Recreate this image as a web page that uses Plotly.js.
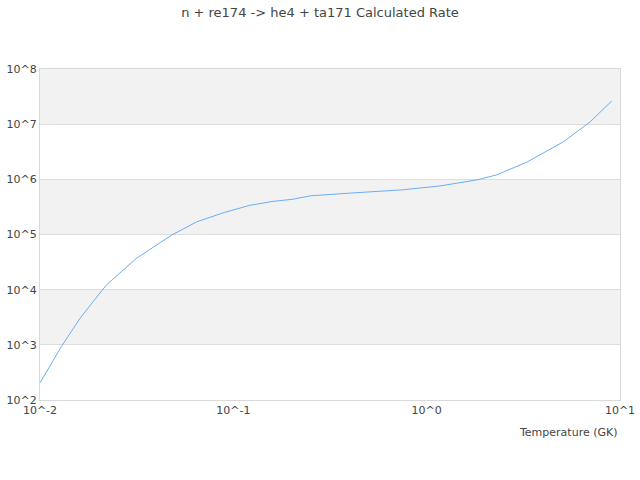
<!DOCTYPE html>
<html>
<head>
<meta charset="utf-8">
<script src="https://cdn.plot.ly/plotly-3.0.1.min.js"></script>
<style>html,body{margin:0;padding:0;background:#fff;}#chart{width:640px;height:480px;}</style>
</head>
<body>
<div id="chart"></div>
<script>
// Temperature (GK)
var temperature = [0.01, 0.0129, 0.0161, 0.0221, 0.0316, 0.048, 0.0647, 0.09, 0.122, 0.16, 0.204, 0.249, 0.40, 0.75, 1.17, 1.82, 2.30, 3.29, 5.09, 7.0, 9.06];
// log10 of rate
var logRate = [2.31, 2.97, 3.48, 4.09, 4.57, 4.99, 5.23, 5.40, 5.53, 5.60, 5.64, 5.70, 5.75, 5.81, 5.88, 5.99, 6.08, 6.31, 6.68, 7.04, 7.42];
var rate = logRate.map(function(v){ return Math.pow(10, v); });

var xTickVals = [0.01, 0.1, 1, 10];
var xTickText = ["10^-2", "10^-1", "10^0", "10^1"];
var yTickVals = [1e2, 1e3, 1e4, 1e5, 1e6, 1e7, 1e8];
var yTickText = ["10^2", "10^3", "10^4", "10^5", "10^6", "10^7", "10^8"];
var bandDecades = [[3, 4], [5, 6], [7, 8]];

var yMin = 2, yMax = 8;
var shapes = bandDecades.map(function(b){
  return {type: 'rect', xref: 'paper', yref: 'paper', x0: 0, x1: 1,
    y0: (b[0] - yMin) / (yMax - yMin), y1: (b[1] - yMin) / (yMax - yMin),
    fillcolor: '#f2f2f2', line: {width: 0}, layer: 'below'};
});

var trace = {x: temperature, y: rate, type: 'scatter', mode: 'lines',
  line: {color: '#6aaef2', width: 1}, hoverinfo: 'x+y'};

var layout = {
  width: 640, height: 480,
  margin: {l: 40, r: 20, t: 69, b: 80},
  paper_bgcolor: '#fff', plot_bgcolor: 'rgba(0,0,0,0)',
  font: {family: 'DejaVu Sans, sans-serif', size: 11, color: '#444'},
  title: {text: 'n + re174 -> he4 + ta171 Calculated Rate', font: {size: 13, color: '#444'}, x: 0.5, xanchor: 'center', y: 0.975, yanchor: 'middle'},
  showlegend: false,
  shapes: shapes,
  xaxis: {type: 'log', range: [-2, 1], tickvals: xTickVals, ticktext: xTickText,
    showgrid: false, zeroline: false, showline: true, linecolor: '#d9d9d9', linewidth: 1, mirror: true,
    ticks: '', tickfont: {size: 11, color: '#444'}},
  yaxis: {type: 'log', range: [2, 8], tickvals: yTickVals, ticktext: yTickText,
    showgrid: true, gridcolor: '#dddddd', gridwidth: 1, zeroline: false, showline: true, linecolor: '#d9d9d9', linewidth: 1, mirror: true,
    ticks: '', tickfont: {size: 11, color: '#444'}},
  annotations: [{text: 'Temperature (GK)', xref: 'paper', yref: 'paper', x: 1, y: 0, xanchor: 'right', yanchor: 'top', yshift: -24, showarrow: false, font: {size: 11, color: '#444'}}]
};

Plotly.newPlot('chart', [trace], layout, {displayModeBar: false, staticPlot: true});
</script>
</body>
</html>
